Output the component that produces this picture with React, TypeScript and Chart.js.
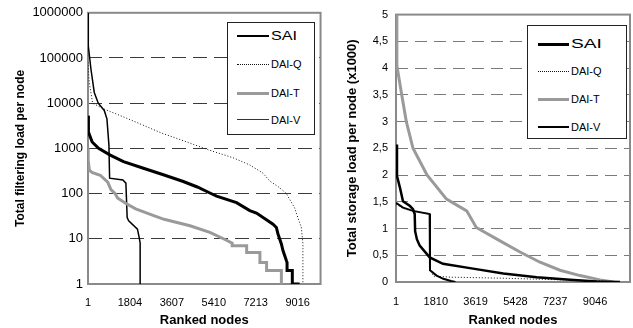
import React, { useEffect, useRef } from 'react';
import { Chart, registerables } from 'chart.js';

Chart.register(...registerables);

const FONT = '"Liberation Sans", Arial, Helvetica, sans-serif';

// ---------- Left chart: total filtering load per node (log scale) ----------
const leftXTicks = [1, 1804, 3607, 5410, 7213, 9016];
const leftYTicks = [1, 10, 100, 1000, 10000, 100000, 1000000];

const leftSaiRank = [1, 20, 180, 455, 957, 1527, 2384, 3241, 4098, 4700, 5243, 5530, 6387, 6957, 7244, 7956, 8100, 8170, 8316, 8384, 8530, 8560, 8560, 8786, 8786, 9100];
const leftSaiLoad = [5300, 2300, 1390, 1000, 710, 510, 363, 261, 185, 140, 103, 88, 63, 42, 37, 21, 17.8, 12.8, 7.7, 5.5, 3.3, 3, 2, 2, 1, 1];

const leftDaiQRank = [1, 50, 200, 700, 1557, 2413, 3150, 4244, 5200, 6241, 6957, 7527, 7814, 8200, 8530, 8886, 9027, 9173, 9241, 9241];
const leftDaiQLoad = [80000, 30000, 10000, 7400, 4900, 3200, 2200, 1390, 920, 620, 430, 283, 190, 140, 100, 48, 29, 18, 8, 1];

const leftDaiTRank = [1, 10, 60, 172, 528, 850, 987, 1170, 1270, 1600, 2050, 2800, 3271, 4385, 5242, 5958, 6200, 6200, 6823, 6823, 7393, 7393, 7680, 7680, 8316, 8316];
const leftDaiTLoad = [1000, 550, 330, 295, 255, 180, 122, 100, 80, 62, 46, 33, 27, 19.4, 13.9, 9.3, 8, 7, 7, 5, 5, 3, 3, 2, 2, 1];

const leftDaiVRank = [1, 14, 130, 271, 442, 700, 815, 900, 930, 1500, 1630, 1685, 1750, 2127, 2200, 2243, 2243];
const leftDaiVLoad = [1000000, 183000, 55600, 17300, 10000, 6900, 4500, 1200, 219, 200, 170, 29.4, 25, 16.4, 10.8, 8, 1];

// ---------- Right chart: total storage load per node (x1000) ----------
const rightXTicks = [1, 1810, 3619, 5428, 7237, 9046];
const rightYTicks = [0, 0.5, 1, 1.5, 2, 2.5, 3, 3.5, 4, 4.5, 5];

const rightSaiRank = [1, 46, 183, 319, 637, 774, 851, 870, 950, 1078, 1533, 2137, 3501, 4878, 6396, 7910, 9123, 10182];
const rightSaiLoad = [2.57, 1.98, 1.76, 1.51, 1.42, 1.36, 1.27, 0.95, 0.8, 0.68, 0.46, 0.34, 0.25, 0.16, 0.09, 0.04, 0.01, 0];

const rightDaiQRank = [1, 320, 774, 1530, 1546, 1700, 2500, 5000, 7500, 9500, 9600];
const rightDaiQLoad = [1.45, 1.38, 1.32, 1.28, 0.25, 0.11, 0.09, 0.07, 0.04, 0.02, 0];

const rightDaiTRank = [1, 40, 242, 469, 774, 1410, 2296, 3214, 3650, 4728, 5637, 6546, 7455, 8364, 9273, 9877];
const rightDaiTLoad = [5, 4.05, 3.55, 3.0, 2.5, 2.0, 1.55, 1.33, 1.02, 0.77, 0.56, 0.37, 0.22, 0.12, 0.04, 0];

const rightDaiVRank = [1, 320, 774, 1530, 1546, 1848, 2150, 2500, 2700];
const rightDaiVLoad = [1.48, 1.39, 1.33, 1.27, 0.22, 0.12, 0.06, 0.02, 0];

const seriesLabels = ['SAI', 'DAI-Q', 'DAI-T', 'DAI-V'];

function pts(r: number[], v: number[]) {
  return r.map((x, i) => ({ x, y: v[i] }));
}

const plotBorder = {
  id: 'plotBorder',
  beforeDatasetsDraw(chart: any, _args: any, opts: any) {
    const { ctx, chartArea: a } = chart;
    ctx.save();
    ctx.strokeStyle = opts.color || '#888';
    ctx.lineWidth = opts.width || 2;
    ctx.setLineDash([]);
    ctx.strokeRect(a.left, a.top, a.right - a.left, a.bottom - a.top);
    ctx.restore();
  },
};

function makeOptions(cfg: {
  padding: any;
  yWidth: number;
  xHeight: number;
  xMax: number;
  xTicks: number[];
  yTicks: number[];
  yType: string;
  yMin: number;
  yMax: number;
  yFont: number;
  yPad: number;
  xPad: number;
  yTitle: string;
  yTitleSize: number;
  yTitlePad: number;
  gridColor: string;
  dash: number[];
  yFmt: (v: number) => string;
}) {
  return {
    animation: false,
    responsive: false,
    maintainAspectRatio: false,
    layout: { padding: cfg.padding },
    elements: { point: { radius: 0 }, line: { tension: 0 } },
    plugins: {
      legend: { display: false },
      tooltip: { enabled: false },
      plotBorder: { color: '#8a8a8a', width: 2 },
    },
    scales: {
      x: {
        type: 'linear',
        min: 1,
        max: cfg.xMax,
        afterBuildTicks: (s: any) => {
          s.ticks = cfg.xTicks.map((value) => ({ value }));
        },
        afterFit: (s: any) => {
          s.height = cfg.xHeight;
        },
        grid: { display: false, drawTicks: false },
        border: { display: false },
        ticks: {
          autoSkip: false,
          maxRotation: 0,
          minRotation: 0,
          padding: cfg.xPad,
          color: '#000',
          font: { family: FONT, size: 11 },
          callback: (v: any) => String(v),
        },
        title: {
          display: true,
          text: 'Ranked nodes',
          color: '#000',
          font: { family: FONT, size: 13, weight: 'bold' },
          padding: { top: 0, bottom: 0 },
        },
      },
      y: {
        type: cfg.yType,
        min: cfg.yMin,
        max: cfg.yMax,
        afterBuildTicks: (s: any) => {
          s.ticks = cfg.yTicks.map((value) => ({ value }));
        },
        afterFit: (s: any) => {
          s.width = cfg.yWidth;
        },
        grid: {
          drawTicks: false,
          lineWidth: 1,
          borderDash: cfg.dash,
          color: (c: any) => {
            const v = c.tick ? c.tick.value : null;
            return v === cfg.yMin || v === cfg.yMax ? 'rgba(0,0,0,0)' : cfg.gridColor;
          },
        },
        border: { display: false, dash: cfg.dash },
        ticks: {
          autoSkip: false,
          padding: cfg.yPad,
          color: '#000',
          font: { family: FONT, size: cfg.yFont },
          callback: (v: any) => cfg.yFmt(Number(v)),
        },
        title: {
          display: true,
          text: cfg.yTitle,
          color: '#000',
          font: { family: FONT, size: cfg.yTitleSize, weight: 'bold' },
          padding: { top: cfg.yTitlePad, bottom: 0 },
        },
      },
    },
  };
}

type LegendProps = {
  left: number;
  top: number;
  width: number;
  height: number;
  rowYs: number[];
  sampleX: number;
  sampleW: number;
  textX: number;
  styles: { color: string; width: number; dotted?: boolean }[];
  saiScale: number;
};

function Legend(p: LegendProps) {
  return (
    <div
      style={{
        position: 'absolute',
        left: p.left,
        top: p.top,
        width: p.width,
        height: p.height,
        boxSizing: 'border-box',
        border: '1px solid #222',
        background: '#fff',
        fontFamily: FONT,
        color: '#000',
      }}
    >
      {seriesLabels.map((label, i) => {
        const st = p.styles[i];
        const y = p.rowYs[i];
        const big = i === 0;
        return (
          <React.Fragment key={label}>
            <div
              style={{
                position: 'absolute',
                left: p.sampleX,
                top: y - st.width / 2,
                width: p.sampleW,
                height: 0,
                borderTop: `${st.width}px ${st.dotted ? 'dotted' : 'solid'} ${st.color}`,
              }}
            />
            <div
              style={{
                position: 'absolute',
                left: p.textX,
                top: y,
                fontSize: big ? 12 : 11,
                lineHeight: '1',
                whiteSpace: 'nowrap',
                transform: big ? `translateY(-50%) scaleX(${p.saiScale})` : 'translateY(-50%)',
                transformOrigin: 'left center',
              }}
            >
              {label}
            </div>
          </React.Fragment>
        );
      })}
    </div>
  );
}

function LeftChart() {
  const ref = useRef<HTMLCanvasElement>(null);
  useEffect(() => {
    const chart = new Chart(ref.current as HTMLCanvasElement, {
      type: 'line',
      data: {
        datasets: [
          { label: 'SAI', data: pts(leftSaiRank, leftSaiLoad), borderColor: '#000', borderWidth: 3 },
          { label: 'DAI-Q', data: pts(leftDaiQRank, leftDaiQLoad), borderColor: '#111', borderWidth: 1, borderDash: [1, 2] },
          { label: 'DAI-T', data: pts(leftDaiTRank, leftDaiTLoad), borderColor: '#9a9a9a', borderWidth: 3 },
          { label: 'DAI-V', data: pts(leftDaiVRank, leftDaiVLoad), borderColor: '#000', borderWidth: 1.5 },
        ],
      },
      options: makeOptions({
        padding: { left: 0, top: 9, right: 1, bottom: 0 },
        yWidth: 88,
        xHeight: 44,
        xMax: 10000,
        xTicks: leftXTicks,
        yTicks: leftYTicks,
        yType: 'logarithmic',
        yMin: 1,
        yMax: 1000000,
        yFont: 13,
        yPad: 5,
        xPad: 12,
        yTitle: 'Total filtering load per node',
        yTitleSize: 12,
        yTitlePad: 13,
        gridColor: '#3a3a3a',
        dash: [14, 7],
        yFmt: (v) => String(v),
      }) as any,
      plugins: [plotBorder as any],
    });
    return () => chart.destroy();
  }, []);
  return <canvas ref={ref} width={322} height={328} style={{ display: 'block', width: 322, height: 328 }} />;
}

function RightChart() {
  const ref = useRef<HTMLCanvasElement>(null);
  useEffect(() => {
    const chart = new Chart(ref.current as HTMLCanvasElement, {
      type: 'line',
      data: {
        datasets: [
          { label: 'SAI', data: pts(rightSaiRank, rightSaiLoad), borderColor: '#000', borderWidth: 2.5 },
          { label: 'DAI-Q', data: pts(rightDaiQRank, rightDaiQLoad), borderColor: '#111', borderWidth: 1, borderDash: [1, 2] },
          { label: 'DAI-T', data: pts(rightDaiTRank, rightDaiTLoad), borderColor: '#9a9a9a', borderWidth: 3 },
          { label: 'DAI-V', data: pts(rightDaiVRank, rightDaiVLoad), borderColor: '#000', borderWidth: 2 },
        ],
      },
      options: makeOptions({
        padding: { left: 0, top: 12, right: 3, bottom: 0 },
        yWidth: 74,
        xHeight: 46,
        xMax: 10636,
        xTicks: rightXTicks,
        yTicks: rightYTicks,
        yType: 'linear',
        yMin: 0,
        yMax: 5,
        yFont: 11,
        yPad: 8,
        xPad: 13,
        yTitle: 'Total storage load per node (x1000)',
        yTitleSize: 13,
        yTitlePad: 23,
        gridColor: '#7a7a7a',
        dash: [12, 7],
        yFmt: (v) => String(v).replace('.', ','),
      }) as any,
      plugins: [plotBorder as any],
    });
    return () => chart.destroy();
  }, []);
  return <canvas ref={ref} width={311} height={328} style={{ display: 'block', width: 311, height: 328 }} />;
}

export default function App() {
  return (
    <div
      style={{
        position: 'absolute',
        left: 0,
        top: 0,
        width: 633,
        height: 328,
        background: '#fff',
        overflow: 'hidden',
        fontFamily: FONT,
      }}
    >
      <div style={{ position: 'absolute', left: 0, top: 0, width: 322, height: 328 }}>
        <LeftChart />
      </div>
      <div style={{ position: 'absolute', left: 322, top: 0, width: 311, height: 328 }}>
        <RightChart />
      </div>
      <Legend
        left={227}
        top={22}
        width={88}
        height={113}
        rowYs={[13, 41, 70, 97]}
        sampleX={9}
        sampleW={32}
        textX={43}
        saiScale={1.35}
        styles={[
          { color: '#000', width: 2 },
          { color: '#111', width: 1, dotted: true },
          { color: '#9a9a9a', width: 3 },
          { color: '#333', width: 1.5 },
        ]}
      />
      <Legend
        left={527}
        top={25}
        width={100}
        height={114}
        rowYs={[18, 45, 73, 101]}
        sampleX={10}
        sampleW={31}
        textX={43}
        saiScale={1.6}
        styles={[
          { color: '#000', width: 3 },
          { color: '#111', width: 1, dotted: true },
          { color: '#9a9a9a', width: 3 },
          { color: '#000', width: 2 },
        ]}
      />
    </div>
  );
}
